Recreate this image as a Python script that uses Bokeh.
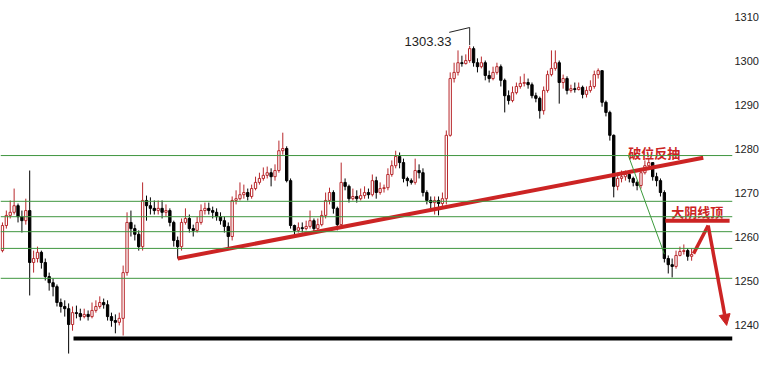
from bokeh.plotting import figure
from bokeh.models import ColumnDataSource, Range1d, FixedTicker, Span, Arrow, NormalHead
from bokeh.embed import file_html
from bokeh.resources import INLINE
from bokeh.core.properties import value

# ---- data ----
first_open = 1256.8
close = [
    1262.5, 1264.8, 1265.5, 1267.0, 1264.5, 1263.6, 1265.9, 1254.1, 1255.0, 1256.4,
    1254.1, 1250.9, 1249.5, 1248.6, 1245.0, 1244.1, 1243.6, 1240.0, 1242.7, 1242.5,
    1241.8, 1242.3, 1241.8, 1243.2, 1244.1, 1245.0, 1244.5, 1241.8, 1240.9, 1240.5,
    1241.4, 1251.8, 1263.2, 1261.8, 1260.5, 1257.7, 1268.2, 1267.0, 1266.4, 1265.9,
    1266.4, 1265.5, 1265.9, 1263.2, 1259.1, 1257.7, 1263.2, 1264.1, 1261.8, 1261.4,
    1263.2, 1265.9, 1266.4, 1265.9, 1265.5, 1264.5, 1263.6, 1262.3, 1260.0, 1268.2,
    1268.6, 1269.5, 1270.0, 1269.1, 1270.9, 1272.3, 1273.2, 1273.9, 1274.5, 1273.6,
    1275.0, 1279.5, 1280.0, 1272.7, 1262.5, 1261.4, 1262.0, 1261.8, 1262.3, 1263.6,
    1261.8, 1262.7, 1264.8, 1268.2, 1270.0, 1266.4, 1262.7, 1272.3, 1271.4, 1268.6,
    1269.1, 1268.6, 1269.3, 1270.0, 1269.5, 1272.7, 1270.0, 1270.9, 1271.1, 1274.1,
    1276.1, 1278.2, 1276.8, 1273.2, 1272.7, 1272.3, 1275.0, 1274.5, 1270.0, 1268.2,
    1267.7, 1268.2, 1267.5, 1268.6, 1283.0, 1295.9, 1297.3, 1299.5, 1299.3, 1300.0,
    1302.7, 1299.5, 1298.6, 1299.5, 1296.6, 1295.9, 1297.3, 1298.6, 1295.5, 1292.0,
    1290.9, 1292.7, 1294.1, 1294.8, 1295.0, 1294.5, 1292.0, 1291.4, 1288.6, 1293.2,
    1296.8, 1298.2, 1299.5, 1295.0, 1295.9, 1293.2, 1293.6, 1293.4, 1293.9, 1292.3,
    1293.2, 1294.1, 1296.8, 1297.7, 1290.5, 1288.2, 1283.0, 1271.4, 1273.2, 1273.6,
    1274.1, 1273.2, 1272.3, 1271.6, 1274.5, 1276.1, 1276.8, 1273.6, 1272.7, 1270.0,
    1255.0, 1253.6, 1253.2, 1255.7, 1256.6, 1256.8, 1255.5, 1255.9,
]
high = [
    1263.2, 1265.9, 1268.2, 1270.9, 1267.5, 1265.9, 1268.6, 1275.0, 1256.8, 1257.7,
    1256.8, 1255.0, 1251.8, 1250.5, 1249.1, 1245.9, 1245.5, 1244.8, 1244.1, 1244.3,
    1243.6, 1243.6, 1243.2, 1245.0, 1245.5, 1246.4, 1245.9, 1245.5, 1242.7, 1242.3,
    1242.7, 1253.4, 1265.5, 1265.9, 1262.7, 1261.4, 1272.3, 1269.3, 1268.9, 1268.2,
    1268.2, 1268.2, 1267.3, 1266.4, 1263.6, 1260.0, 1264.1, 1266.4, 1265.0, 1262.7,
    1264.5, 1267.3, 1267.7, 1267.7, 1266.8, 1266.4, 1265.5, 1264.5, 1263.2, 1269.1,
    1270.5, 1272.3, 1271.8, 1270.9, 1271.8, 1273.6, 1274.5, 1275.7, 1275.9, 1275.5,
    1276.4, 1281.8, 1283.6, 1280.5, 1273.2, 1262.7, 1263.2, 1263.2, 1263.6, 1265.9,
    1264.1, 1264.1, 1265.9, 1270.0, 1271.1, 1270.5, 1266.8, 1276.8, 1273.2, 1271.8,
    1270.9, 1270.5, 1270.9, 1271.4, 1270.9, 1274.1, 1273.6, 1272.3, 1271.8, 1275.5,
    1277.3, 1279.5, 1279.1, 1277.7, 1273.6, 1273.2, 1277.7, 1276.4, 1275.5, 1270.5,
    1269.1, 1269.1, 1269.1, 1270.0, 1284.1, 1297.3, 1299.5, 1302.3, 1301.1, 1301.4,
    1303.33, 1303.2, 1300.5, 1300.9, 1300.0, 1297.7, 1298.6, 1299.5, 1299.1, 1295.9,
    1293.2, 1294.1, 1295.0, 1296.4, 1297.0, 1295.9, 1295.0, 1292.7, 1291.8, 1294.1,
    1297.7, 1302.3, 1302.3, 1300.0, 1296.8, 1296.4, 1294.5, 1295.0, 1295.0, 1294.3,
    1294.1, 1295.5, 1297.7, 1298.2, 1297.7, 1290.9, 1288.6, 1283.2, 1274.5, 1275.0,
    1275.0, 1274.5, 1273.6, 1272.7, 1275.5, 1277.3, 1277.7, 1276.8, 1274.5, 1273.2,
    1270.5, 1255.7, 1255.0, 1256.8, 1257.7, 1258.2, 1257.3, 1257.3,
]
low = [
    1256.4, 1261.8, 1264.1, 1265.0, 1263.2, 1260.9, 1262.7, 1246.6, 1251.8, 1254.1,
    1252.7, 1250.0, 1247.7, 1246.4, 1244.1, 1242.7, 1241.8, 1233.4, 1238.6, 1241.4,
    1240.9, 1241.4, 1240.9, 1241.4, 1242.7, 1243.6, 1243.6, 1240.9, 1239.5, 1238.0,
    1239.8, 1237.5, 1251.1, 1260.0, 1259.1, 1256.8, 1256.8, 1263.6, 1265.0, 1265.0,
    1265.0, 1264.1, 1264.5, 1262.3, 1257.7, 1255.0, 1256.8, 1262.7, 1260.9, 1260.0,
    1260.9, 1262.7, 1265.0, 1265.0, 1264.1, 1263.6, 1262.7, 1260.9, 1257.5, 1259.1,
    1267.3, 1268.2, 1268.6, 1268.2, 1268.6, 1270.5, 1271.8, 1272.7, 1273.2, 1271.4,
    1272.7, 1274.5, 1278.6, 1272.3, 1261.8, 1260.0, 1260.9, 1260.9, 1261.4, 1261.8,
    1260.9, 1261.4, 1262.3, 1264.1, 1267.3, 1265.2, 1261.4, 1261.8, 1270.5, 1267.7,
    1268.2, 1267.7, 1268.2, 1268.6, 1268.6, 1269.1, 1268.6, 1269.5, 1270.0, 1270.5,
    1273.6, 1275.5, 1275.5, 1272.3, 1271.4, 1271.8, 1271.8, 1273.2, 1269.1, 1267.3,
    1266.4, 1265.0, 1264.8, 1266.8, 1267.3, 1282.7, 1295.0, 1296.6, 1298.6, 1299.1,
    1299.5, 1298.6, 1297.3, 1298.2, 1295.5, 1295.0, 1295.5, 1296.8, 1294.1, 1288.2,
    1290.0, 1290.5, 1292.3, 1293.6, 1294.1, 1293.6, 1291.4, 1290.5, 1286.8, 1287.7,
    1292.7, 1296.4, 1297.7, 1290.2, 1293.6, 1292.3, 1292.7, 1292.7, 1293.2, 1291.4,
    1291.6, 1292.7, 1293.6, 1295.9, 1289.5, 1287.3, 1281.8, 1268.9, 1270.5, 1272.3,
    1272.7, 1272.3, 1271.4, 1270.5, 1270.9, 1274.1, 1275.5, 1272.7, 1271.4, 1269.1,
    1254.1, 1251.6, 1250.7, 1252.7, 1255.5, 1255.9, 1254.5, 1254.5,
]
# horizontal support / resistance levels (green)
green_levels = [1278.4, 1268.0, 1264.5, 1261.1, 1257.3, 1250.5]
# black bottom support
support_level = 1236.8
support_start = 18.25
# red rising trendline (bar index, price)
trend_x = [45, 180]
trend_y = [1255.0, 1277.9]
# thin green drop line
drop_x = [160.75, 170.0]
drop_y = [1278.4, 1256.0]
# red "big bearish candle top" line
top_x = [170.25, 186.75]
top_y = [1263.6, 1263.6]
# red projected path and arrow
path_x = [177.5, 181.25]
path_y = [1256.1, 1262.5]
arrow_end = (186.0, 1239.8)
# peak label
peak_text = "1303.33"
peak_label_pos = (103.25, 1304.3)
leader_x = [114.75, 120.0, 120.0]
leader_y = [1306.4, 1307.5, 1303.5]
# chinese notes
note_x = [160.75, 171.75]
note_y = [1279.1, 1265.7]
note_text = ["破位反抽", "大阴线顶"]
y_ticks = [1240, 1250, 1260, 1270, 1280, 1290, 1300, 1310]

RED = "#cc2424"
CANDLE_RED = "#b8282c"

opens = [first_open] + close[:-1]
idx = list(range(len(close)))
is_up = [c >= o for o, c in zip(opens, close)]
src = ColumnDataSource(dict(
    x=idx, o=opens, c=close, h=high, l=low,
    top=[max(o, c) for o, c in zip(opens, close)],
    bot=[min(o, c) for o, c in zip(opens, close)],
    lc=[CANDLE_RED if u else "#000000" for u in is_up],
    fc=["#ffffff" if u else "#000000" for u in is_up],
))

p = figure(width=761, height=370, x_range=Range1d(-0.5, 187.5),
           y_range=Range1d(1229.55, 1313.64), output_backend="svg",
           toolbar_location=None, x_axis_location=None, y_axis_location="right",
           min_border_left=0, min_border_top=0, min_border_bottom=0, min_border_right=1)
p.outline_line_color = None
p.grid.visible = False
p.background_fill_color = "white"
p.border_fill_color = "white"

ax = p.yaxis[0]
ax.ticker = FixedTicker(ticks=y_ticks)
ax.axis_line_color = None
ax.major_tick_line_color = None
ax.minor_tick_line_color = None
ax.major_tick_out = 0
ax.major_tick_in = 0
ax.major_label_text_font = "Liberation Sans"
ax.major_label_text_font_size = "11px"
ax.major_label_text_color = "#222222"
ax.major_label_standoff = 2

for lv in green_levels:
    p.add_layout(Span(location=lv, dimension="width", line_color="#3f963f", line_width=1))

p.line(x=[support_start, 187.5], y=[support_level, support_level], line_color="black", line_width=4)

p.segment(x0="x", y0="h", x1="x", y1="l", line_color="lc", line_width=1, source=src)
p.vbar(x="x", top="top", bottom="bot", width=0.6, fill_color="fc", line_color="lc",
       line_width=1, source=src)

p.line(x=trend_x, y=trend_y, line_color=RED, line_width=4)
p.line(x=drop_x, y=drop_y, line_color="#3c9a3c", line_width=1)
p.line(x=top_x, y=top_y, line_color=RED, line_width=4)
p.line(x=path_x, y=path_y, line_color=RED, line_width=3.5)
p.add_layout(Arrow(end=NormalHead(size=11, fill_color=RED, line_color=RED),
                   x_start=path_x[-1], y_start=path_y[-1], x_end=arrow_end[0], y_end=arrow_end[1],
                   line_color=RED, line_width=3.5))

p.line(x=leader_x, y=leader_y, line_color="#222222", line_width=1)
p.text(x=[peak_label_pos[0]], y=[peak_label_pos[1]], text=[peak_text],
       text_font=value("Liberation Sans"), text_font_size="13px", text_color="#222222",
       text_baseline="middle", text_align="left")
p.text(x=note_x, y=note_y, text=note_text, text_font=value("Noto Sans CJK SC"),
       text_font_style="bold", text_font_size="13px", text_color=RED,
       text_baseline="middle", text_align="left")

open("out.html", "w").write(file_html(p, INLINE))
